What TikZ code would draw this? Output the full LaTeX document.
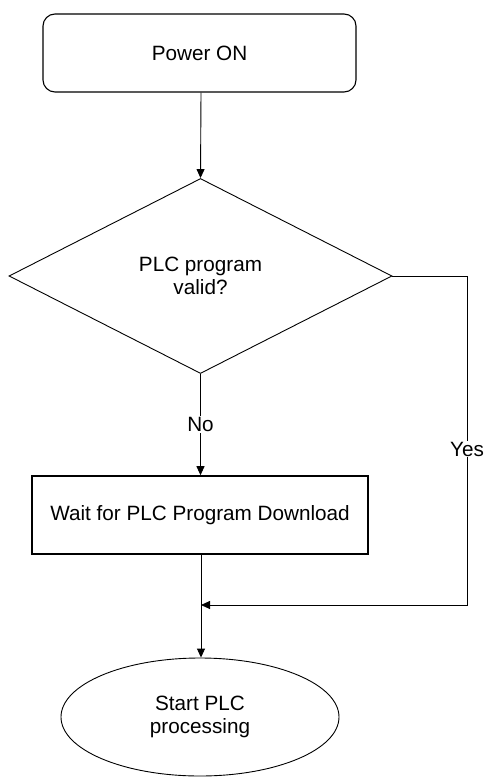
\documentclass[tikz,border=0pt]{standalone}
\usepackage{fontspec}
\setmainfont{Liberation Sans}
\usetikzlibrary{shapes.geometric,arrows.meta}
\begin{document}
\begin{tikzpicture}[x=1pt,y=-1pt,
    font=\fontsize{20.7}{23}\selectfont,
    flow/.style={line width=0.9pt,-{Triangle[length=9pt,width=8pt]}},
    lbl/.style={fill=white,inner sep=1pt}]
                    \useasboundingbox (0,0) rectangle (484,778);%

                    % Start box
                    \node [draw,line width=1.1pt,rounded corners=12pt,minimum width=313pt,minimum height=78pt,inner sep=0pt] (poweron) at (199.5,53) {Power ON};%

                    % Decision
                    \node [draw,line width=0.9pt,diamond,minimum width=383pt,minimum height=195pt,inner sep=0pt,align=center] (valid) at (200.5,276) {PLC program\\valid?};%

                    % Waiting step
                    \node [draw,line width=1.6pt,minimum width=336pt,minimum height=78pt,inner sep=0pt] (waitdl) at (200,515) {Wait for PLC Program Download};%

                    % End ellipse
                    \node [draw,line width=0.9pt,ellipse,minimum width=278pt,minimum height=118pt,inner sep=0pt,align=center] (startproc) at (200,717) {Start PLC\\processing};%

                    % Corner and join points
                    \coordinate (yescorner) at (467,605);%
                    \coordinate (join) at (201,605);%

                    % Drawing connectors
                    \draw [flow] (poweron.south -| 201,0) -- (valid.north);%
                    \draw [flow] (valid.south) -- node [lbl] {No} (waitdl.north -| valid.south);%
                    \draw [flow] (valid.east) -| node [lbl,pos=0.763] {Yes} (yescorner) -- (join);%
                    \draw [flow] (waitdl.south -| join) -- (startproc.north -| join);%
\end{tikzpicture}
\end{document}
